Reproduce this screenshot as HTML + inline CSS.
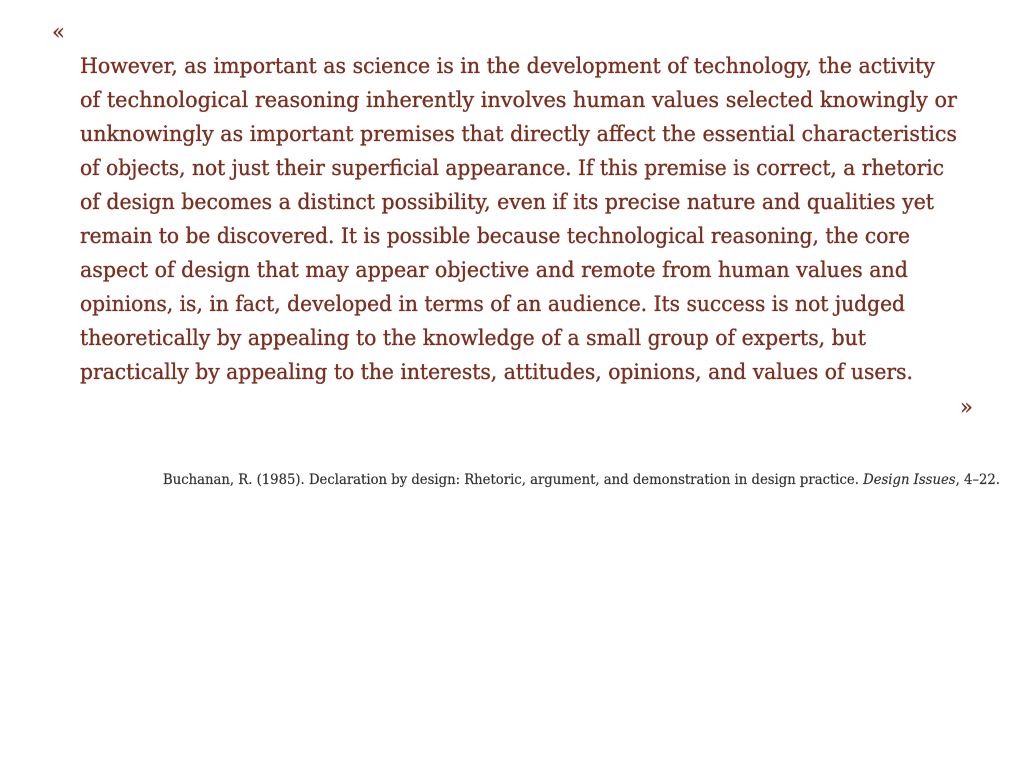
<!DOCTYPE html>
<html><head><meta charset="utf-8"><style>
html,body{margin:0;padding:0;background:#fff;width:1024px;height:768px;overflow:hidden}
svg{display:block}
.q{font-family:"DejaVu Serif","Liberation Serif",serif;font-size:21px;fill:#7a2f20;stroke:#7a2f20;stroke-width:0.35px}
.c{font-family:"DejaVu Serif","Liberation Serif",serif;font-size:13.5px;fill:#333;stroke:#333;stroke-width:0.2px}
</style></head><body>
<svg width="1024" height="768">
<text class="q" x="52" y="39">«</text>
<g>
<text class="q" x="80" y="73" textLength="855" lengthAdjust="spacingAndGlyphs">However, as important as science is in the development of technology, the activity</text>
<text class="q" x="80" y="107" textLength="877" lengthAdjust="spacingAndGlyphs">of technological reasoning inherently involves human values selected knowingly or</text>
<text class="q" x="80" y="141" textLength="877" lengthAdjust="spacingAndGlyphs">unknowingly as important premises that directly affect the essential characteristics</text>
<text class="q" x="80" y="175" textLength="864" lengthAdjust="spacingAndGlyphs">of objects, not just their superficial appearance. If this premise is correct, a rhetoric</text>
<text class="q" x="80" y="209" textLength="854" lengthAdjust="spacingAndGlyphs">of design becomes a distinct possibility, even if its precise nature and qualities yet</text>
<text class="q" x="80" y="243" textLength="830" lengthAdjust="spacingAndGlyphs">remain to be discovered. It is possible because technological reasoning, the core</text>
<text class="q" x="80" y="277" textLength="828" lengthAdjust="spacingAndGlyphs">aspect of design that may appear objective and remote from human values and</text>
<text class="q" x="80" y="311" textLength="825" lengthAdjust="spacingAndGlyphs">opinions, is, in fact, developed in terms of an audience. Its success is not judged</text>
<text class="q" x="80" y="345" textLength="786" lengthAdjust="spacingAndGlyphs">theoretically by appealing to the knowledge of a small group of experts, but</text>
<text class="q" x="80" y="379" textLength="833" lengthAdjust="spacingAndGlyphs">practically by appealing to the interests, attitudes, opinions, and values of users.</text>
</g>
<text class="q" x="960" y="414">»</text>
<text class="c" x="163" y="484" textLength="837" lengthAdjust="spacingAndGlyphs">Buchanan, R. (1985). Declaration by design: Rhetoric, argument, and demonstration in design practice. <tspan font-style="italic">Design Issues</tspan>, 4–22.</text>
</svg>
</body></html>
